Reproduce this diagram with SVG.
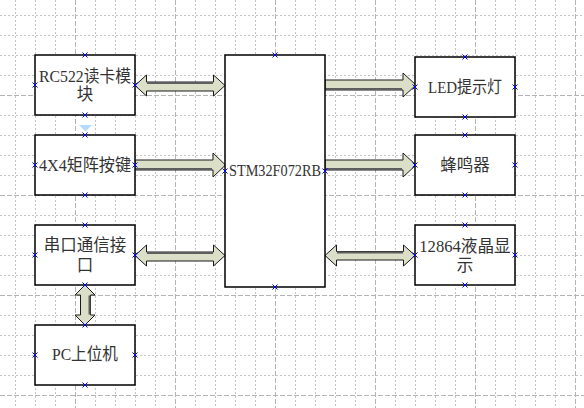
<svg xmlns="http://www.w3.org/2000/svg" width="584" height="408" viewBox="0 0 584 408">
<style>
.minor{stroke:#c4c4c4;stroke-width:1;stroke-dasharray:2 2;fill:none}
.major{stroke:#b4b4b4;stroke-width:1;stroke-dasharray:5 2;fill:none}
.box{fill:#ffffff;stroke:#000000;stroke-width:1.5}
.lbl{font-family:"Liberation Serif","Noto Sans CJK SC",serif;font-size:16.5px;fill:#333333;text-anchor:middle}
.arr{fill:#dcdfc8;stroke:#1a1a1a;stroke-width:1}
.shd{stroke:#5e5e5e;stroke-width:2;fill:none}
.mk{stroke:#0000ff;stroke-width:1;fill:none}
</style>
<defs>
<path id="x" d="M-2.5,-2.5 L2.5,2.5 M-2.5,2.5 L2.5,-2.5"/>
</defs>
<rect width="584" height="408" fill="#ffffff"/>
<g id="grid">
<path class="minor" d="M15.5,0V408M35.5,0V408M55.5,0V408M95.5,0V408M115.5,0V408M135.5,0V408M155.5,0V408M195.5,0V408M215.5,0V408M235.5,0V408M255.5,0V408M295.5,0V408M315.5,0V408M335.5,0V408M355.5,0V408M395.5,0V408M415.5,0V408M435.5,0V408M455.5,0V408M495.5,0V408M515.5,0V408M535.5,0V408M555.5,0V408"/>
<path class="major" d="M75.5,0V408M175.5,0V408M275.5,0V408M375.5,0V408M475.5,0V408M575.5,0V408"/>
<path class="minor" d="M0,15.5H584M0,35.5H584M0,55.5H584M0,75.5H584M0,115.5H584M0,135.5H584M0,155.5H584M0,175.5H584M0,215.5H584M0,235.5H584M0,255.5H584M0,275.5H584M0,315.5H584M0,335.5H584M0,355.5H584M0,375.5H584"/>
<path class="major" d="M0,95.5H584M0,195.5H584M0,295.5H584M0,395.5H584"/>
</g>
<g id="connectors">
<g id="a-rc522">
<polygon class="arr" points="135,85.5 146.5,75 146.5,82 213.5,82 213.5,75 225,85.5 213.5,96 213.5,91 146.5,91 146.5,96"/>
<path class="shd" d="M147,83H213"/>
</g>
<g id="a-key">
<polygon class="arr" points="135,160 213,160 213,153 225.5,165 213,177 213,170 135,170"/>
<path class="shd" d="M135,169H212"/>
</g>
<g id="a-uart">
<polygon class="arr" points="135,255.5 146.5,245 146.5,252 213.5,252 213.5,245 225,255.5 213.5,266 213.5,261 146.5,261 146.5,266"/>
<path class="shd" d="M147,253H213"/>
</g>
<g id="a-led">
<polygon class="arr" points="325,80 403,80 403,73 416,85 403,97 403,90 325,90"/>
<path class="shd" d="M325,89H402"/>
</g>
<g id="a-buzzer">
<polygon class="arr" points="325,160 403,160 403,153 416,165 403,177 403,170 325,170"/>
<path class="shd" d="M325,169H402"/>
</g>
<g id="a-lcd">
<polygon class="arr" points="325,255.5 336.5,245 336.5,251.5 403.5,251.5 403.5,245 415,255.5 403.5,266 403.5,260 336.5,260 336.5,266"/>
<path class="shd" d="M337,252.5H403"/>
</g>
<g id="a-pc">
<polygon class="arr" points="85,285 95,295 90.5,295 90.5,315 95,315 85,325 75,315 80.5,315 80.5,295 75,295"/>
<path class="shd" d="M89.5,295.5V314.5"/>
</g>
<polygon id="tri" points="79,125 92,125 85.5,131.5" fill="#b3dbff"/>
</g>
<g id="rc522">
<rect class="box" x="35" y="55" width="100" height="60"/>
<text class="lbl" x="85" y="81.5" textLength="92" lengthAdjust="spacingAndGlyphs">RC522读卡模</text>
<text class="lbl" x="85" y="100">块</text>
</g>
<g id="keypad">
<rect class="box" x="35" y="135" width="100" height="60"/>
<text class="lbl" x="85" y="171" textLength="92" lengthAdjust="spacingAndGlyphs">4X4矩阵按键</text>
</g>
<g id="uart">
<rect class="box" x="35" y="225" width="100" height="60"/>
<text class="lbl" x="85" y="250.5">串口通信接</text>
<text class="lbl" x="85" y="270.5">口</text>
</g>
<g id="pc">
<rect class="box" x="35" y="325" width="100" height="60"/>
<text class="lbl" x="85" y="360" textLength="66" lengthAdjust="spacingAndGlyphs">PC上位机</text>
</g>
<g id="stm32">
<rect class="box" x="225" y="55" width="100" height="232"/>
<text class="lbl" x="275" y="176" textLength="92" lengthAdjust="spacingAndGlyphs">STM32F072RB</text>
</g>
<g id="led">
<rect class="box" x="415" y="57" width="100" height="60"/>
<text class="lbl" x="465" y="93" textLength="74" lengthAdjust="spacingAndGlyphs">LED提示灯</text>
</g>
<g id="buzzer">
<rect class="box" x="415" y="135" width="100" height="60"/>
<text class="lbl" x="465" y="170.5">蜂鸣器</text>
</g>
<g id="lcd">
<rect class="box" x="415" y="225" width="100" height="60"/>
<text class="lbl" x="465" y="251.5" textLength="91.5" lengthAdjust="spacingAndGlyphs">12864液晶显</text>
<text class="lbl" x="465" y="271">示</text>
</g>
<g id="markers" class="mk">
<use href="#x" x="85" y="55"/><use href="#x" x="85" y="115"/><use href="#x" x="35" y="85"/><use href="#x" x="135" y="85"/>
<use href="#x" x="85" y="135"/><use href="#x" x="85" y="195"/><use href="#x" x="35" y="165"/><use href="#x" x="135" y="165"/>
<use href="#x" x="85" y="225"/><use href="#x" x="85" y="285"/><use href="#x" x="35" y="255"/><use href="#x" x="135" y="255"/>
<use href="#x" x="85" y="325"/><use href="#x" x="85" y="385"/><use href="#x" x="35" y="355"/><use href="#x" x="135" y="355"/>
<use href="#x" x="275" y="55"/><use href="#x" x="275" y="287"/><use href="#x" x="225" y="171"/><use href="#x" x="325" y="171"/>
<use href="#x" x="465" y="57"/><use href="#x" x="465" y="117"/><use href="#x" x="415" y="87"/><use href="#x" x="515" y="87"/>
<use href="#x" x="465" y="135"/><use href="#x" x="465" y="195"/><use href="#x" x="415" y="165"/><use href="#x" x="515" y="165"/>
<use href="#x" x="465" y="225"/><use href="#x" x="465" y="285"/><use href="#x" x="415" y="255"/><use href="#x" x="515" y="255"/>
</g>
</svg>
